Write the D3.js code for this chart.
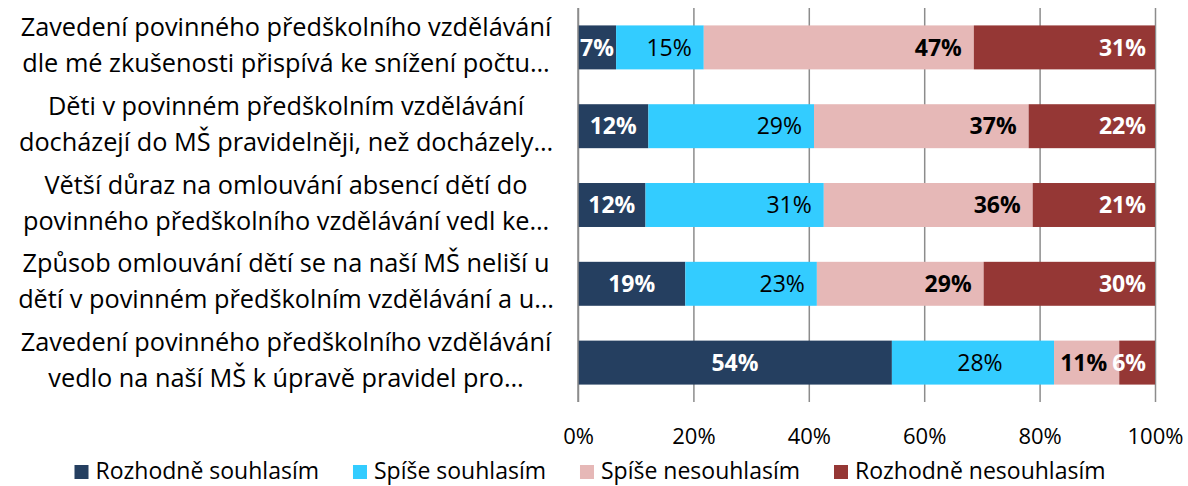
<!DOCTYPE html>
<html><head><meta charset="utf-8">
<script src="https://cdn.jsdelivr.net/npm/d3@7"></script>
<style>
body{margin:0;background:#fff}
svg{display:block}
text{font-family:"Open Sans", sans-serif; fill:#000}
</style>
</head><body><svg id="chart" width="1188" height="486"></svg>
<script>
const categories = [
  ["Zavedení povinného předškolního vzdělávání", "dle mé zkušenosti přispívá ke snížení počtu…"],
  ["Děti v povinném předškolním vzdělávání", "docházejí do MŠ pravidelněji, než docházely…"],
  ["Větší důraz na omlouvání absencí dětí do", "povinného předškolního vzdělávání vedl ke…"],
  ["Způsob omlouvání dětí se na naší MŠ neliší u", "dětí v povinném předškolním vzdělávání a u…"],
  ["Zavedení povinného předškolního vzdělávání", "vedlo na naší MŠ k úpravě pravidel pro…"]
];
const seriesNames = ["Rozhodně souhlasím", "Spíše souhlasím", "Spíše nesouhlasím", "Rozhodně nesouhlasím"];
const rozhodneSouhlasim   = [6.6, 12.2, 11.7, 18.6, 54.4];
const spiseSouhlasim      = [15.2, 28.7, 30.9, 22.8, 28.1];
const spiseNesouhlasim    = [46.8, 37.2, 36.2, 28.9, 11.3];
const rozhodneNesouhlasim = [31.4, 21.9, 21.2, 29.7, 6.2];
const xTicks = [0, 20, 40, 60, 80, 100];
const xTickLabels = ["0%", "20%", "40%", "60%", "80%", "100%"];

const colors = ["#253F60", "#33CCFF", "#E6B8B7", "#953735"];
const labelColors = ["#fff", "#000", "#000", "#fff"];
const labelWeights = ["bold", "normal", "bold", "bold"];

const seriesValues = [rozhodneSouhlasim, spiseSouhlasim, spiseNesouhlasim, rozhodneNesouhlasim];
const rows = categories.map((c, i) => {
  const o = {idx: i};
  seriesNames.forEach((s, k) => o[s] = seriesValues[k][i]);
  return o;
});
const stacked = d3.stack().keys(seriesNames)(rows);

const svg = d3.select("#chart");
const FS_CAT = 25.3, FS_LBL = 23, FS_TICK = 22, FS_LEG = 23;

const x = d3.scaleLinear().domain([0, 100]).range([578, 1155]);
const y = d3.scaleBand().domain(d3.range(categories.length)).range([8, 402])
  .paddingInner(0.442).paddingOuter(0.221);

// grid + axis
const axis = svg.append("g").attr("transform", "translate(0,402)")
  .call(d3.axisBottom(x).tickValues(xTicks).tickSize(-394).tickPadding(26)
    .tickFormat((d, i) => xTickLabels[i]));
axis.select(".domain").remove();
axis.selectAll(".tick line").attr("stroke", "#8c8c8c").attr("stroke-width", 1.5);
axis.selectAll(".tick text").attr("font-size", FS_TICK).attr("fill", "#000")
  .style("font-family", "'Open Sans', sans-serif");

// bars
const gS = svg.append("g").selectAll("g").data(stacked).join("g")
  .attr("fill", (d, i) => colors[i]);
gS.selectAll("rect").data(d => d).join("rect")
  .attr("x", d => x(d[0])).attr("width", d => x(d[1]) - x(d[0]))
  .attr("y", d => y(d.data.idx)).attr("height", y.bandwidth());

// axis line at 0 on top of bars
svg.append("line").attr("x1", x(0)).attr("x2", x(0)).attr("y1", 8).attr("y2", 402)
  .attr("stroke", "#8c8c8c").attr("stroke-width", 1.5);

// data labels
const lastRow = categories.length - 1;
stacked.forEach((s, k) => {
  svg.append("g").selectAll("text").data(s).join("text")
    .attr("font-size", FS_LBL)
    .attr("font-weight", labelWeights[k])
    .style("fill", labelColors[k])
    .attr("y", d => y(d.data.idx) + y.bandwidth() / 2 + FS_LBL * 0.36)
    .each(function(d) {
      const centered = k === 0 || (k === 1 && d.data.idx === lastRow);
      const t = d3.select(this);
      if (centered) {
        t.attr("text-anchor", "middle").attr("x", (x(d[0]) + x(d[1])) / 2 + (k === 1 ? 7 : 0));
      } else {
        t.attr("text-anchor", "end").attr("x", x(d[1]) - (k === 3 ? 9 : 12));
      }
    })
    .text(d => Math.round(d[1] - d[0]) + "%");
});

// category labels
const cg = svg.append("g");
categories.forEach((lines, i) => {
  const cy = y(i) + y.bandwidth() / 2;
  lines.forEach((ln, j) => {
    cg.append("text").attr("x", 286).attr("y", cy - 11.5 + j * 36)
      .attr("text-anchor", "middle").attr("font-size", FS_CAT).text(ln);
  });
});

// legend
const lg = svg.append("g");
let cx = 0;
seriesNames.forEach((n, k) => {
  const g = lg.append("g");
  g.append("rect").attr("x", 0).attr("y", 465).attr("width", 14).attr("height", 14).attr("fill", colors[k]);
  const t = g.append("text").attr("x", 21).attr("y", 478.5).attr("font-size", FS_LEG).text(n);
  const w = t.node().getComputedTextLength();
  g.attr("transform", `translate(${cx},0)`);
  cx += 21 + w + 34;
});
const total = cx - 34;
lg.attr("transform", `translate(${590 - total / 2},0)`);
</script>
</body></html>
